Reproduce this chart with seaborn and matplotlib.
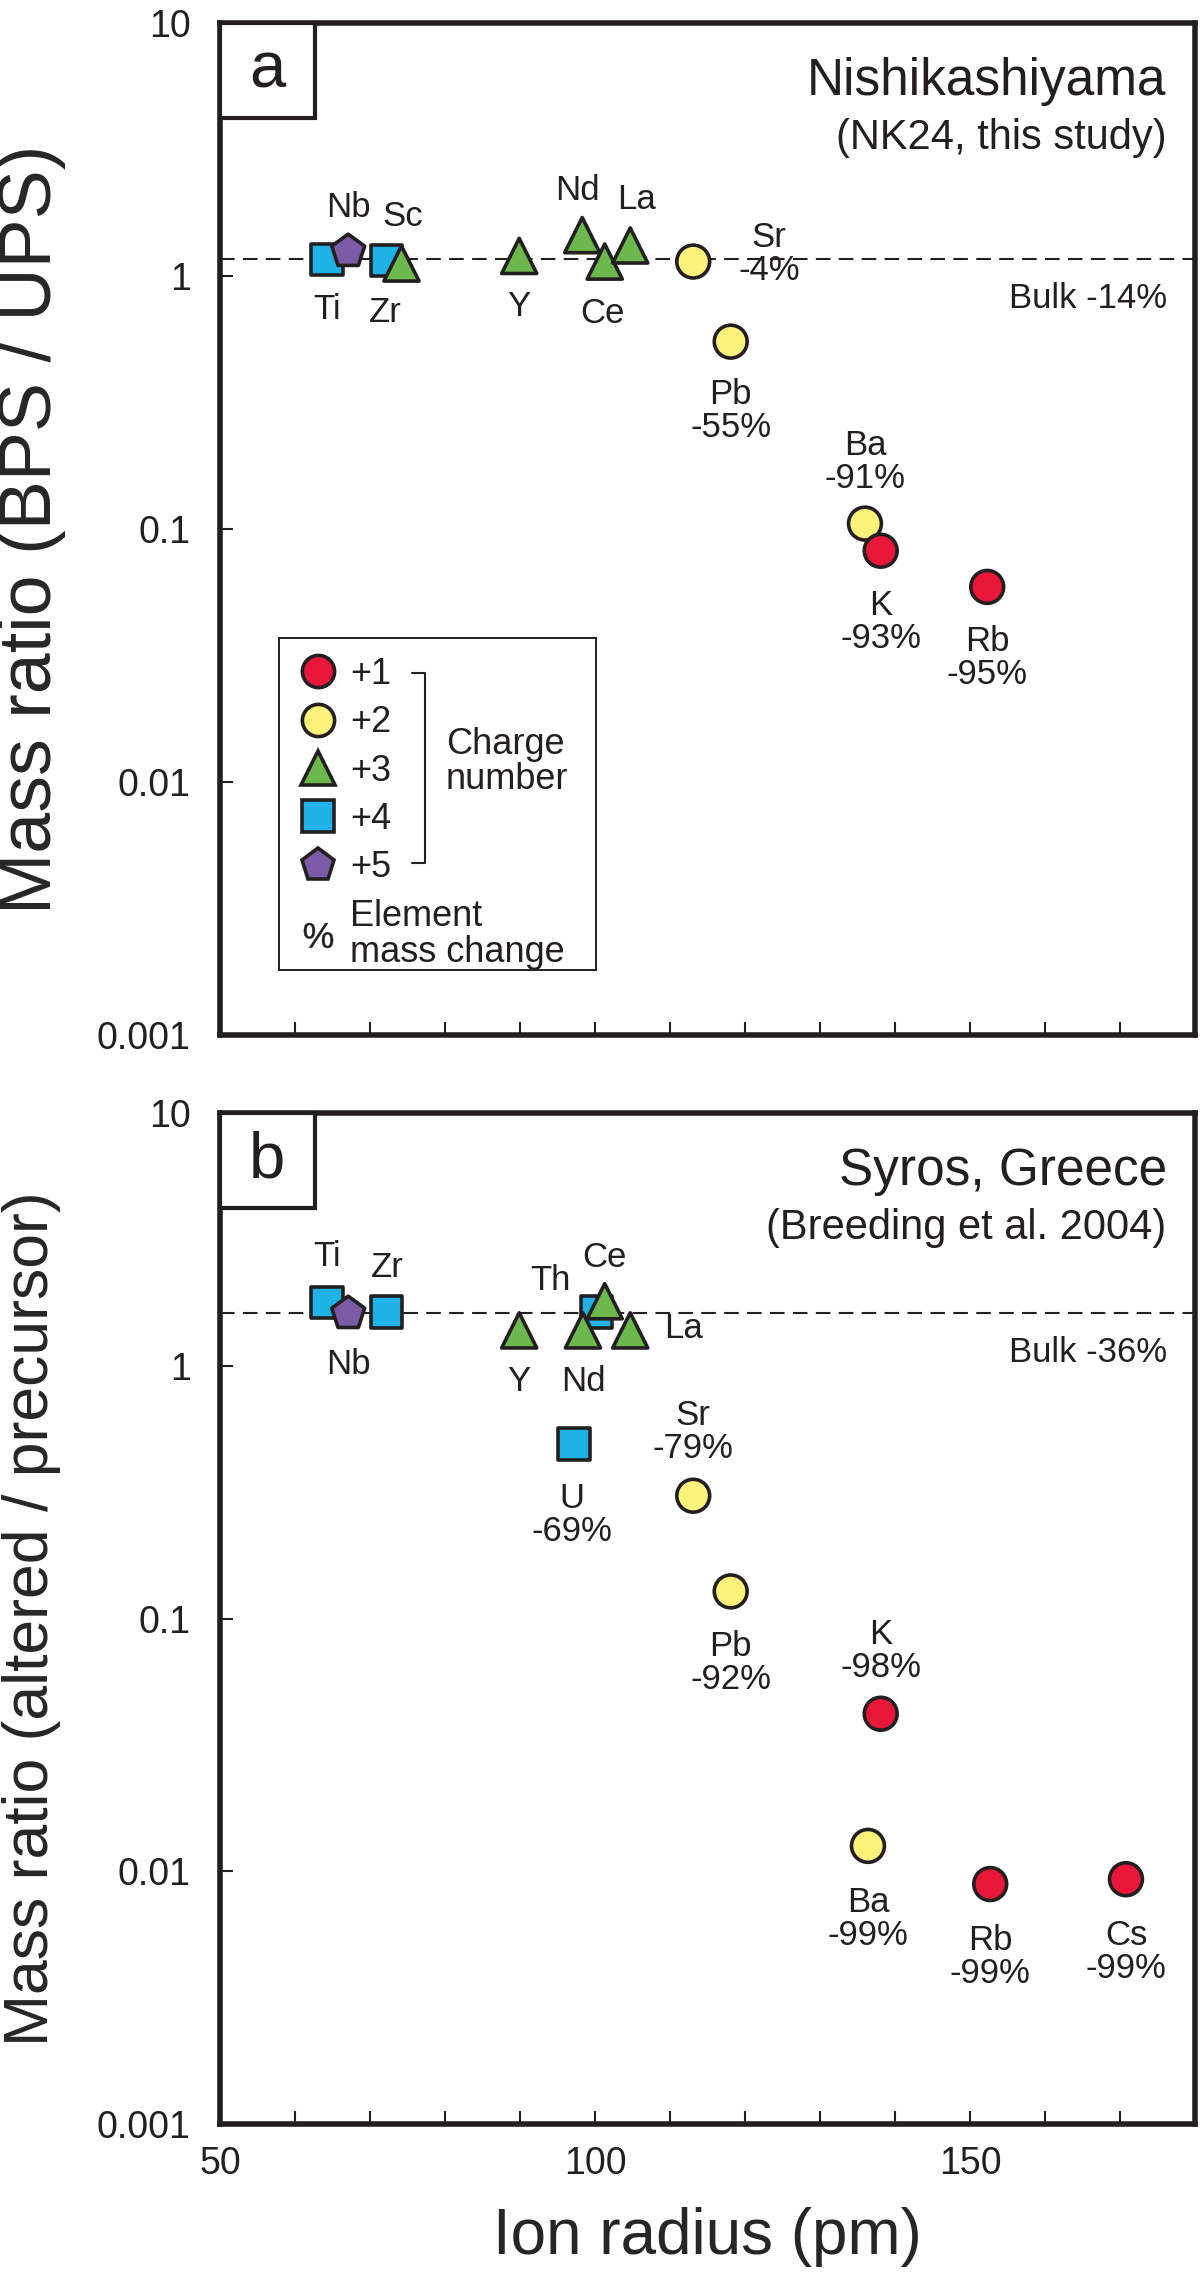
import seaborn as sns
import matplotlib.pyplot as plt
import pandas as pd
import numpy as np
from matplotlib.lines import Line2D
from matplotlib.patches import Rectangle
from matplotlib.ticker import NullLocator

# 1. Data
# panel a: Nishikashiyama (NK24)
elements_a = ["Ti", "Nb", "Zr", "Sc", "Y", "Nd", "Ce", "La", "Sr", "Pb", "Ba", "K", "Rb"]
radius_a = [64.3, 67.1, 72.2, 74.2, 89.9, 98.3, 101.3, 104.7, 113.1, 118.1, 136.0, 138.1, 152.3]
ratio_a = [1.16, 1.25, 1.15, 1.12, 1.20, 1.45, 1.14, 1.32, 1.14, 0.55, 0.105, 0.082, 0.059]
charge_a = [4, 5, 4, 3, 3, 3, 3, 3, 2, 2, 2, 1, 1]
change_a = ["", "", "", "", "", "", "", "", "-4%", "-55%", "-91%", "-93%", "-95%"]

# panel b: Syros, Greece (Breeding et al. 2004)
elements_b = ["Ti", "Nb", "Zr", "Y", "Nd", "Th", "Ce", "La", "U", "Sr", "Pb", "K", "Ba", "Rb", "Cs"]
radius_b = [64.3, 67.1, 72.2, 89.9, 98.4, 100.2, 101.3, 104.7, 97.2, 113.1, 118.1, 138.1, 136.4, 152.7, 170.8]
ratio_b = [1.78, 1.61, 1.63, 1.38, 1.38, 1.63, 1.80, 1.38, 0.49, 0.306, 0.128, 0.042, 0.0126, 0.0089, 0.0093]
charge_b = [4, 5, 4, 3, 3, 4, 3, 3, 4, 2, 2, 1, 2, 1, 1]
change_b = ["", "", "", "", "", "", "", "", "-69%", "-79%", "-92%", "-98%", "-99%", "-99%", "-99%"]

bulk_ratio = [1.163, 1.62]
bulk_label = ["Bulk -14%", "Bulk -36%"]
site_name = ["Nishikashiyama", "Syros, Greece"]
site_source = ["(NK24, this study)", "(Breeding et al. 2004)"]
panel_tag = ["a", "b"]
y_titles = ["Mass ratio (BPS / UPS)", "Mass ratio (altered / precursor)"]

charge_levels = [1, 2, 3, 4, 5]
charge_names = ["+1", "+2", "+3", "+4", "+5"]
x_tick_values = list(range(50, 180, 10))
x_tick_text = ["50" if v == 50 else "100" if v == 100 else "150" if v == 150 else "" for v in x_tick_values]
y_tick_values = [0.001, 0.01, 0.1, 1, 10]
y_tick_text = ["0.001", "0.01", "0.1", "1", "10"]

# 2. Style
INK = "#231f20"
palette = {1: "#e8173a", 2: "#fdf27a", 3: "#6cb84c", 4: "#1fb2e4", 5: "#7b5aa6"}
markers = {1: "o", 2: "o", 3: "^", 4: "s", 5: "p"}
sizes = {1: 560, 2: 560, 3: 640, 4: 520, 5: 620}
draw_rank = {4: 0, 5: 1, 3: 2, 2: 3, 1: 4}
ylabel_size = [53, 45]

# label offsets in pixels (dx right, dy up) from each point
offsets_a = {"Ti": (0, -50), "Nb": (0, 44), "Zr": (-1, -52), "Sc": (1, 47), "Y": (0, -51),
             "Nd": (-5, 45), "Ce": (-2, -52), "La": (6, 46), "Sr": (76, 8), "Pb": (0, -69),
             "Ba": (0, 62), "K": (0, -71), "Rb": (0, -71)}
offsets_b = {"Ti": (0, 46), "Nb": (0, -51), "Zr": (1, 45), "Y": (0, -51), "Nd": (0, -51),
             "Th": (-46, 32), "Ce": (0, 44), "La": (53, 2), "U": (-2, -71), "Sr": (0, 64),
             "Pb": (0, -72), "K": (0, 63), "Ba": (0, -73), "Rb": (0, -73), "Cs": (0, -73)}

sns.set_style("ticks")
plt.rcParams['font.family'] = ['Liberation Sans', 'DejaVu Sans']
plt.rcParams['mathtext.fontset'] = 'custom'
plt.rcParams['mathtext.rm'] = 'Liberation Sans'
plt.rcParams['text.color'] = INK

DPI = 100
PX = 72 / DPI  # pixels -> points

fig = plt.figure(figsize=(12, 22.75), dpi=DPI)
ax_a = fig.add_axes([0.1833, 0.5451, 0.8125, 0.4448])
ax_b = fig.add_axes([0.1833, 0.06637, 0.8125, 0.4444])

panels = [
    (ax_a, elements_a, radius_a, ratio_a, charge_a, change_a, offsets_a),
    (ax_b, elements_b, radius_b, ratio_b, charge_b, change_b, offsets_b),
]

for i, (ax, els, rad, rat, chg, pct, offs) in enumerate(panels):
    df = pd.DataFrame({"element": els, "radius": rad, "ratio": rat, "charge": chg, "change": pct})
    df["rank"] = df["charge"].map(draw_rank)
    df = df.sort_values("rank", kind="stable")

    ax.axhline(bulk_ratio[i], color=INK, lw=1.5, dashes=(7, 4), zorder=1)

    sns.scatterplot(data=df, x="radius", y="ratio", hue="charge", style="charge", size="charge",
                    palette=palette, markers=markers, sizes=sizes, edgecolor=INK, linewidth=2.6,
                    legend=False, zorder=3, ax=ax)

    for _, row in df.iterrows():
        txt = row["element"] if row["change"] == "" else row["element"] + "\n" + row["change"]
        dx, dy = offs[row["element"]]
        ax.annotate(txt, (row["radius"], row["ratio"]), xytext=(dx * PX, dy * PX),
                    textcoords="offset points", ha="center", va="center",
                    fontsize=25, linespacing=1.0, zorder=4)

    ax.set_yscale("log")
    ax.set_ylim(0.001, 10)
    ax.set_xlim(50, 180)
    ax.set_yticks(y_tick_values)
    ax.set_yticklabels(y_tick_text)
    ax.yaxis.set_minor_locator(NullLocator())
    ax.set_xticks(x_tick_values)
    ax.set_xticklabels(x_tick_text)
    ax.tick_params(direction="in", length=9.4, width=1.5, labelsize=27, colors=INK,
                   top=False, right=False)
    ax.tick_params(axis="y", pad=21)
    ax.tick_params(axis="x", pad=16, labelbottom=(i == 1))
    for s in ax.spines.values():
        s.set_linewidth(4)
        s.set_color(INK)
        s.set_visible(True)

    ax.set_xlabel("")
    ax.set_ylabel(y_titles[i], fontsize=ylabel_size[i], va="center")
    ax.yaxis.set_label_coords(-0.193, 0.5)

    # panel tag box
    ax.add_patch(Rectangle((0, 0.906), 0.097, 0.094, transform=ax.transAxes, facecolor="white",
                           edgecolor=INK, lw=3, clip_on=False, zorder=5))
    ax.text(0.0485, 0.953, panel_tag[i], transform=ax.transAxes, ha="center", va="center",
            fontsize=47, zorder=6)

    ax.text(0.971, 0.929, site_name[i], transform=ax.transAxes, ha="right", va="baseline", fontsize=37)
    ax.text(0.971, 0.875, site_source[i], transform=ax.transAxes, ha="right", va="baseline", fontsize=30)
    ax.text(0.971, [0.7184, 0.754][i], bulk_label[i], transform=ax.transAxes, ha="right",
            va="baseline", fontsize=25)

ax_b.set_xlabel("Ion radius (pm)", fontsize=46, va="center")
ax_b.xaxis.set_label_coords(0.5, -0.112)

# 3. Legend (charge number) inside panel a
handles = [Line2D([], [], ls="", marker=markers[c], ms=np.sqrt(sizes[c]) * 0.98,
                  mfc=palette[c], mec=INK, mew=2.6) for c in charge_levels]
handles.append(Line2D([], [], ls="", marker=r"$\%$", ms=21, color=INK, mew=0.3))
labels = charge_names + ["Element\nmass change"]
leg = ax_a.legend(handles, labels, loc="upper left", bbox_to_anchor=(0.0821, 0.3735),
                  frameon=False, borderpad=0, borderaxespad=0, handlelength=1.0,
                  handletextpad=0.39, labelspacing=0.37, fontsize=26)
for t in leg.get_texts():
    t.set_linespacing(1.05)
    t.set_color(INK)

ax_a.add_patch(Rectangle((0.0605, 0.064), 0.3255, 0.328, transform=ax_a.transAxes,
                         fill=False, edgecolor=INK, lw=1.4, zorder=2))
ax_a.plot([0.1969, 0.2103, 0.2103, 0.1969], [0.3577, 0.3577, 0.1700, 0.1700],
          transform=ax_a.transAxes, color=INK, lw=1.5)
ax_a.text(0.2318, 0.2698, "Charge\nnumber", transform=ax_a.transAxes, ha="left", va="center",
          fontsize=26, linespacing=1.0)

plt.savefig("out.png", dpi=DPI)
